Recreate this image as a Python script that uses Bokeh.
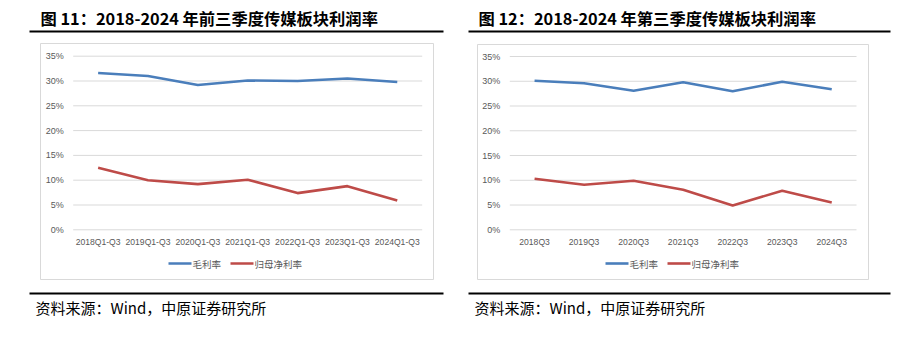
from bokeh.plotting import figure
from bokeh.models import Range1d
from bokeh.core.properties import value
from bokeh.embed import file_html
from bokeh.resources import INLINE

# ---------------- data ----------------
cats_left = ["2018Q1-Q3", "2019Q1-Q3", "2020Q1-Q3", "2021Q1-Q3", "2022Q1-Q3", "2023Q1-Q3", "2024Q1-Q3"]
gross_left = [31.6, 31.0, 29.2, 30.1, 30.0, 30.5, 29.8]
net_left = [12.5, 10.0, 9.2, 10.1, 7.4, 8.8, 5.9]

cats_right = ["2018Q3", "2019Q3", "2020Q3", "2021Q3", "2022Q3", "2023Q3", "2024Q3"]
gross_right = [30.1, 29.6, 28.1, 29.8, 28.0, 29.9, 28.4]
net_right = [10.3, 9.1, 9.9, 8.1, 4.9, 7.9, 5.5]

y_ticks = [0, 5, 10, 15, 20, 25, 30, 35]
y_tick_labels = ["0%", "5%", "10%", "15%", "20%", "25%", "30%", "35%"]

series_names = ["毛利率", "归母净利率"]
title_left = "图 11：2018-2024 年前三季度传媒板块利润率"
title_right = "图 12：2018-2024 年第三季度传媒板块利润率"
source_text = "资料来源：Wind，中原证券研究所"

# ---------------- styles ----------------
BLUE = "#4A7EBB"
RED = "#BE4B48"
GRID = "#D9D9D9"
LABEL = "#595959"
CJK = "Noto Sans CJK SC"
LAT = "Liberation Sans"

W, H = 900, 337
p = figure(width=W, height=H, x_range=Range1d(0, W), y_range=Range1d(H, 0),
           output_backend="svg", toolbar_location=None, min_border=0,
           x_axis_location=None, y_axis_location=None, title=None)
p.grid.visible = False
p.outline_line_color = None
p.background_fill_color = "white"
p.border_fill_color = "white"

panels = [
    dict(name="L", cats=cats_left, gross=gross_left, net=net_left, title=title_left,
         gx0=72.7, gx1=421.7, gy0=229.3, gy35=55.7,
         box=(40, 433, 43, 279), rule=(29, 443), tx=40, srcx=35, leg=168),
    dict(name="R", cats=cats_right, gross=gross_right, net=net_right, title=title_right,
         gx0=509.3, gx1=856.0, gy0=229.3, gy35=56.0,
         box=(477, 868, 44, 279), rule=(468, 890), tx=478, srcx=474, leg=605),
]

p.extra_x_ranges = {}
p.extra_y_ranges = {}
for pn in panels:
    n = len(pn["cats"])
    w = (pn["gx1"] - pn["gx0"]) / n
    k = (pn["gy0"] - pn["gy35"]) / 35.0
    xr = Range1d((0 - pn["gx0"]) / w - 0.5, (W - pn["gx0"]) / w - 0.5)
    yr = Range1d((pn["gy0"] - H) / k, pn["gy0"] / k)
    p.extra_x_ranges["x" + pn["name"]] = xr
    p.extra_y_ranges["y" + pn["name"]] = yr

for pn in panels:
    xn, yn = "x" + pn["name"], "y" + pn["name"]
    n = len(pn["cats"])
    idx = list(range(n))
    bx0, bx1, by0, by1 = pn["box"]

    # chart box
    p.quad(left=bx0, right=bx1, top=by0, bottom=by1, fill_color=None,
           line_color=GRID, line_width=1)

    # gridlines
    p.segment(x0=[-0.5] * len(y_ticks), x1=[n - 0.5] * len(y_ticks), y0=y_ticks, y1=y_ticks,
              x_range_name=xn, y_range_name=yn, line_color=GRID, line_width=1)

    # y tick labels
    p.text(x=[pn["gx0"] - 9.5] * len(y_ticks), y=y_ticks, text=y_tick_labels,
           y_range_name=yn, text_align="right", text_baseline="middle",
           text_font=value(LAT), text_font_size="9px", text_color=LABEL)

    # category labels
    p.text(x=idx, y=[241] * n, text=pn["cats"], x_range_name=xn,
           text_align="center", text_baseline="middle",
           text_font=value(LAT), text_font_size="8.6px", text_color=LABEL)

    # series lines
    p.line(x=idx, y=pn["gross"], x_range_name=xn, y_range_name=yn,
           line_color=BLUE, line_width=2.6, line_join="round")
    p.line(x=idx, y=pn["net"], x_range_name=xn, y_range_name=yn,
           line_color=RED, line_width=2.6, line_join="round")

    # legend
    lx = pn["leg"]
    p.segment(x0=[lx, lx + 62], x1=[lx + 23, lx + 85], y0=[263, 263], y1=[263, 263],
              line_color=[BLUE, RED], line_width=2.6)
    p.text(x=[lx + 24, lx + 86], y=[263, 263], text=series_names,
           text_align="left", text_baseline="middle",
           text_font=value(CJK), text_font_size="9.5px", text_color=LABEL)

    # title
    p.text(x=[pn["tx"]], y=[17], text=[pn["title"]], text_align="left", text_baseline="middle",
           text_font=value(CJK), text_font_style="bold", text_font_size="16.3px", text_color="black")

    # rules
    r0, r1 = pn["rule"]
    p.segment(x0=[r0, r0], x1=[r1, r1], y0=[31, 293], y1=[31, 293],
              line_color="black", line_width=2)

    # source
    p.text(x=[pn["srcx"]], y=[306.5], text=[source_text], text_align="left", text_baseline="middle",
           text_font=value(CJK), text_font_size="15px", text_color="black")

open("out.html", "w").write(file_html(p, INLINE))
